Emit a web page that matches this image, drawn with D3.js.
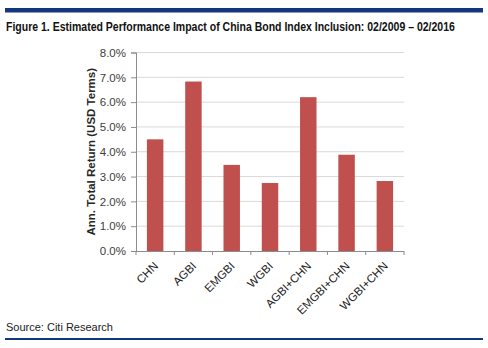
<!DOCTYPE html>
<html>
<head>
<meta charset="utf-8">
<script src="https://cdn.jsdelivr.net/npm/d3@7"></script>
<style>
  body { margin: 0; background: #fff; }
  svg text { font-family: "Liberation Sans", Arial, sans-serif; }
</style>
</head>
<body>
<svg id="chart" width="488" height="348"></svg>
<script>
const categories = ['CHN', 'AGBI', 'EMGBI', 'WGBI', 'AGBI+CHN', 'EMGBI+CHN', 'WGBI+CHN'];
const returns = [4.5, 6.83, 3.47, 2.74, 6.2, 3.88, 2.82];
const yTicks = [0, 1, 2, 3, 4, 5, 6, 7, 8];

const margin = { top: 52.5, left: 136, right: 84, bottom: 97 },
  width = 488 - margin.left - margin.right,
  height = 348 - margin.top - margin.bottom;

const svg = d3.select('#chart');

// header rule + title (narrowed horizontally)
svg.append('rect').attr('x', 5).attr('y', 8).attr('width', 478).attr('height', 4.5).attr('fill', '#12377a');
const title = svg.append('text')
  .attr('font-size', 12.4).attr('font-weight', 'bold').attr('fill', '#111')
  .text('Figure 1. Estimated Performance Impact of China Bond Index Inclusion: 02/2009 \u2013 02/2016');
const tw = title.node().getComputedTextLength();
title.attr('transform', `translate(6,30.5) scale(${449 / tw},1)`);

const g = svg.append('g').attr('transform', `translate(${margin.left},${margin.top})`);

const x = d3.scaleBand().domain(categories).range([0, width]).paddingInner(0.57).paddingOuter(0.285);
const y = d3.scaleLinear().domain([0, 8]).range([height, 0]);

// gridlines
g.selectAll('.grid')
  .data(yTicks.slice(1))
  .enter().append('line')
  .attr('x1', 0).attr('x2', width)
  .attr('y1', d => y(d)).attr('y2', d => y(d))
  .attr('stroke', '#d9d9d9').attr('stroke-width', 1);

g.selectAll('.bar')
  .data(returns)
  .enter().append('rect')
  .attr('class', 'bar')
  .attr('x', (d, i) => x(categories[i]))
  .attr('y', d => y(d))
  .attr('width', x.bandwidth())
  .attr('height', d => height - y(d))
  .attr('fill', '#c0504d');

// y axis
const yAxis = g.append('g')
  .call(d3.axisLeft(y).tickValues(yTicks).tickFormat(d => d.toFixed(1) + '%').tickSize(5).tickPadding(5));
yAxis.select('.domain').attr('stroke', '#8c8c8c');
yAxis.selectAll('.tick line').attr('stroke', '#8c8c8c');
yAxis.selectAll('text').attr('font-size', 11.5).attr('fill', '#404040')
  .attr('font-family', '"Liberation Sans", Arial, sans-serif');

// x axis: ticks sit on the band edges
const step = x.step();
const xAxis = g.append('g').attr('transform', `translate(0,${height})`);
xAxis.append('line').attr('x1', 0).attr('x2', width).attr('y1', 0.5).attr('y2', 0.5).attr('stroke', '#8c8c8c');
xAxis.selectAll('.xtick')
  .data(d3.range(categories.length + 1))
  .enter().append('line')
  .attr('x1', i => i * step).attr('x2', i => i * step)
  .attr('y1', 0).attr('y2', 4)
  .attr('stroke', '#8c8c8c');
xAxis.selectAll('.xlabel')
  .data(categories)
  .enter().append('text')
  .attr('text-anchor', 'end')
  .attr('font-size', 11.5).attr('fill', '#222')
  .attr('transform', d => `translate(${x(d) + x.bandwidth() / 2 - 2},${10}) rotate(-45)`)
  .attr('dy', '0.7em')
  .text(d => d);

// y axis title
svg.append('text')
  .attr('transform', `translate(95,${margin.top + height / 2}) rotate(-90)`)
  .attr('text-anchor', 'middle')
  .attr('font-size', 11.5).attr('font-weight', 'bold').attr('fill', '#262626')
  .text('Ann. Total Return (USD Terms)');

// footer
svg.append('text')
  .attr('x', 6).attr('y', 331)
  .attr('font-size', 11).attr('fill', '#222')
  .text('Source: Citi Research');
svg.append('rect').attr('x', 5).attr('y', 338).attr('width', 478).attr('height', 2).attr('fill', '#12377a');
</script>
</body>
</html>
